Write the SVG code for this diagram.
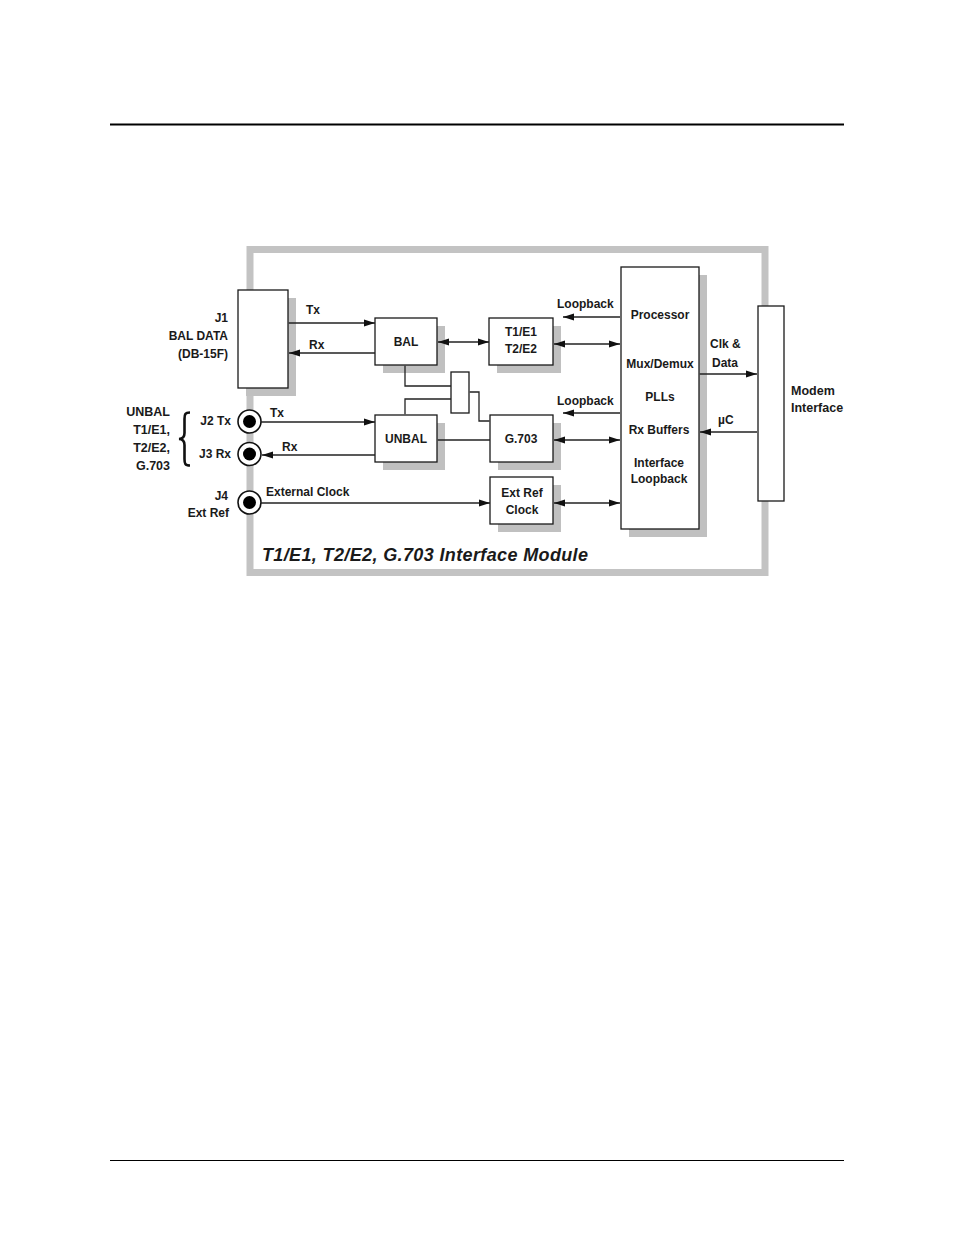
<svg xmlns="http://www.w3.org/2000/svg" width="954" height="1235" viewBox="0 0 954 1235">
<defs>
<style>
.t{font-family:"Liberation Sans",Arial,sans-serif;font-weight:bold;font-size:12px;fill:#1a1a1a}
.m{text-anchor:middle}
.e{text-anchor:end}
.box{fill:#fff;stroke:#1a1a1a;stroke-width:1.3}
.sh{fill:#c0c0c0}
.ln{fill:none;stroke:#222;stroke-width:1.3}
.a{marker-end:url(#ah)}
.d{marker-end:url(#ah);marker-start:url(#ah)}
</style>
<marker id="ah" markerUnits="userSpaceOnUse" markerWidth="12" markerHeight="8" refX="11" refY="4" orient="auto-start-reverse">
<path d="M0,0.5 L11,4 L0,7.5 z" fill="#111"/>
</marker>
</defs>
<rect width="954" height="1235" fill="#fff"/>
<line x1="110" y1="124.5" x2="844" y2="124.5" stroke="#000" stroke-width="2"/>
<line x1="110" y1="1160.5" x2="844" y2="1160.5" stroke="#000" stroke-width="1"/>
<rect id="frame" x="250" y="249.5" width="515" height="323" fill="none" stroke="#c3c3c3" stroke-width="7"/>
<text class="t" x="262" y="561" style="font-size:18px;font-style:italic" fill="#111" textLength="326" lengthAdjust="spacing">T1/E1, T2/E2, G.703 Interface Module</text>

<g id="j1">
<rect class="sh" x="246" y="298" width="50" height="98"/>
<rect class="box" x="238" y="290" width="50" height="98"/>
<text class="t e" x="228" y="322">J1</text>
<text class="t e" x="228" y="340">BAL DATA</text>
<text class="t e" x="228" y="358">(DB-15F)</text>
<text class="t" x="306" y="314">Tx</text>
<text class="t" x="309" y="349">Rx</text>
</g>

<g id="bal">
<rect class="sh" x="383" y="326" width="62" height="47"/>
<rect class="box" x="375" y="318" width="62" height="47"/>
<text class="t m" x="406" y="346">BAL</text>
</g>

<g id="t1e1">
<rect class="sh" x="497" y="326" width="64" height="47"/>
<rect class="box" x="489" y="318" width="64" height="47"/>
<text class="t m" x="521" y="336">T1/E1</text>
<text class="t m" x="521" y="353">T2/E2</text>
</g>

<g id="mux">
<rect class="box" x="451" y="372" width="18" height="41"/>
</g>

<g id="unbal">
<rect class="sh" x="383" y="423" width="62" height="47"/>
<rect class="box" x="375" y="415" width="62" height="47"/>
<text class="t m" x="406" y="443">UNBAL</text>
</g>

<g id="g703">
<rect class="sh" x="498" y="423" width="63" height="47"/>
<rect class="box" x="490" y="415" width="63" height="47"/>
<text class="t m" x="521" y="443">G.703</text>
</g>

<g id="extref">
<rect class="sh" x="498" y="485" width="63" height="47"/>
<rect class="box" x="490" y="477" width="63" height="47"/>
<text class="t m" x="522" y="497">Ext Ref</text>
<text class="t m" x="522" y="514">Clock</text>
</g>

<g id="processor">
<rect class="sh" x="629" y="275" width="78" height="262"/>
<rect class="box" x="621" y="267" width="78" height="262"/>
<text class="t m" x="660" y="319">Processor</text>
<text class="t m" x="660" y="368">Mux/Demux</text>
<text class="t m" x="660" y="401">PLLs</text>
<text class="t m" x="659" y="434">Rx Buffers</text>
<text class="t m" x="659" y="467">Interface</text>
<text class="t m" x="659" y="483">Loopback</text>
<text class="t" x="557" y="308">Loopback</text>
<text class="t" x="557" y="405">Loopback</text>
<text class="t" x="710" y="348">Clk &amp;</text>
<text class="t" x="712" y="367">Data</text>
<text class="t" x="718" y="424">µC</text>
</g>

<g id="modem">
<rect class="box" x="758" y="306" width="26" height="195"/>
<text class="t" x="791" y="395" style="font-size:12.5px">Modem</text>
<text class="t" x="791" y="412" style="font-size:12.5px">Interface</text>
</g>

<g id="j2">
<circle cx="249.5" cy="421.5" r="11.5" fill="#fff" stroke="#111" stroke-width="1.6"/>
<circle cx="249.5" cy="421.5" r="6.5" fill="#000"/>
<text class="t e" x="231" y="425">J2 Tx</text>
<text class="t" x="270" y="417">Tx</text>
</g>
<g id="j3">
<circle cx="249.5" cy="454" r="11.5" fill="#fff" stroke="#111" stroke-width="1.6"/>
<circle cx="249.5" cy="454" r="6.5" fill="#000"/>
<text class="t e" x="231" y="458">J3 Rx</text>
<text class="t" x="282" y="451">Rx</text>
</g>
<g id="j4">
<circle cx="249.5" cy="502.5" r="11.5" fill="#fff" stroke="#111" stroke-width="1.6"/>
<circle cx="249.5" cy="502.5" r="6.5" fill="#000"/>
<text class="t e" x="228" y="500">J4</text>
<text class="t e" x="229" y="517">Ext Ref</text>
<text class="t" x="266" y="496">External Clock</text>
</g>

<g id="unbal-label">
<text class="t e" x="170" y="416" style="font-size:12.5px">UNBAL</text>
<text class="t e" x="170" y="434" style="font-size:12.5px">T1/E1,</text>
<text class="t e" x="170" y="452" style="font-size:12.5px">T2/E2,</text>
<text class="t e" x="170" y="470" style="font-size:12.5px">G.703</text>
<path d="M190,412.5 C185,412.5 184.5,414.5 184.5,419 L184.5,433 C184.5,437 183,438.8 179,439 C183,439.2 184.5,441 184.5,445 L184.5,459 C184.5,463.5 185,465.5 190,465.5" fill="none" stroke="#111" stroke-width="2.6"/>
</g>

<g id="connectors">
<line class="ln a" x1="288.7" y1="323" x2="375" y2="323"/>
<line class="ln a" x1="375" y1="353" x2="289" y2="353"/>
<line class="ln d" x1="438" y1="342" x2="489" y2="342"/>
<line class="ln d" x1="554" y1="344" x2="620" y2="344"/>
<line class="ln a" x1="620" y1="317" x2="563" y2="317"/>
<line class="ln a" x1="620" y1="413" x2="563" y2="413"/>
<line class="ln d" x1="554" y1="440" x2="620" y2="440"/>
<line class="ln d" x1="554" y1="503" x2="620" y2="503"/>
<line class="ln" x1="437.7" y1="440" x2="490" y2="440"/>
<line class="ln a" x1="699.7" y1="374" x2="757" y2="374"/>
<line class="ln a" x1="757" y1="432" x2="700" y2="432"/>
<polyline class="ln" points="405,365.7 405,386 451,386"/>
<polyline class="ln" points="405,414.3 405,399 451,399"/>
<polyline class="ln" points="469.7,392 479,392 479,421 489.5,421"/>
<line class="ln a" x1="261" y1="422" x2="375" y2="422"/>
<line class="ln a" x1="375" y1="455" x2="262" y2="455"/>
<line class="ln a" x1="261" y1="503" x2="490" y2="503"/>
</g>
</svg>
